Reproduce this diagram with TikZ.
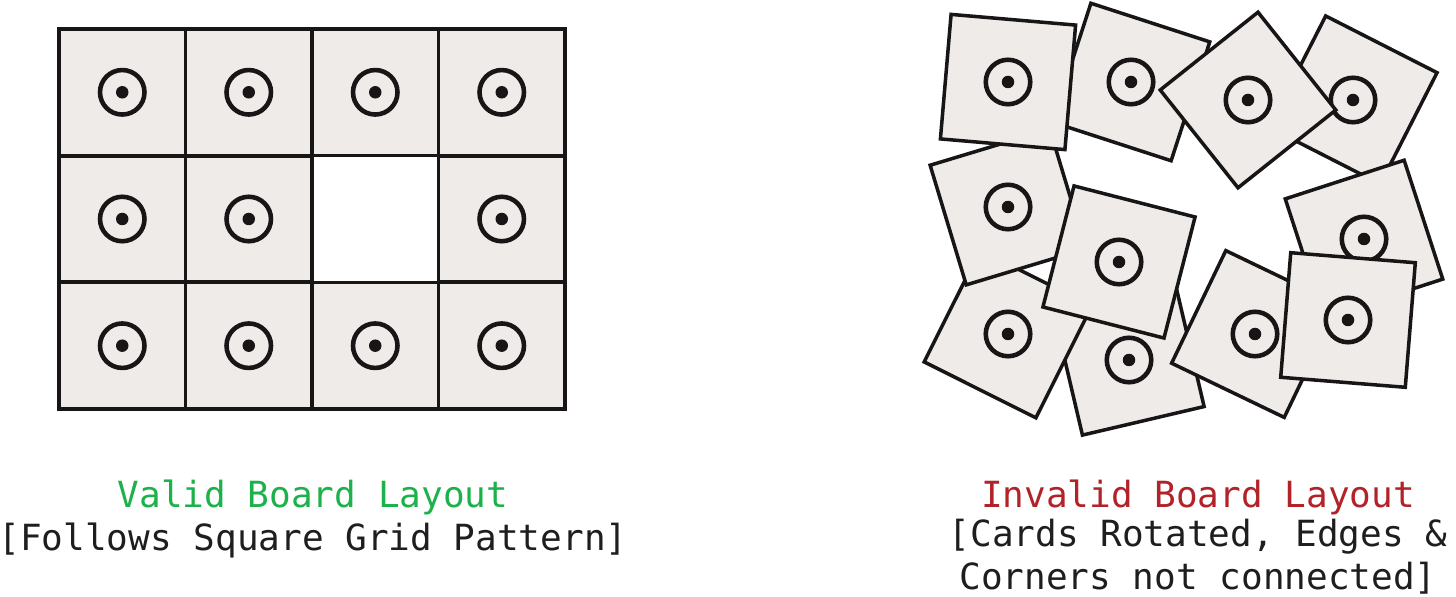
\documentclass[tikz,border=0pt]{standalone}
\usepackage{fontspec}
\setmonofont{DejaVu Sans Mono}
\usepackage{xcolor}
\usepackage{tikz}

\definecolor{cardfill}{RGB}{239,235,233}
\definecolor{inkdark}{RGB}{24,21,22}
\definecolor{validgreen}{RGB}{29,177,75}
\definecolor{invalidred}{RGB}{178,34,41}
\definecolor{captiontext}{RGB}{30,30,30}

\begin{document}
\begin{tikzpicture}[x=0.02cm, y=-0.02cm,
    card/.style={draw=inkdark, fill=cardfill, line width=2pt, minimum size=2.5cm, inner sep=0pt},
    gridcard/.style={card, minimum size=2.53cm},
    ring/.style={draw=inkdark, line width=2.6pt},
    dot/.style={fill=inkdark},
    caption/.style={font=\ttfamily\fontsize{20.5}{24}\selectfont, text=captiontext, anchor=base, inner sep=0pt, align=center}]
    \useasboundingbox (0,0) rectangle (1456,597);

    % valid board: square grid, one gap
    \foreach \c/\r in {0/0,1/0,2/0,3/0,0/1,1/1,3/1,0/2,1/2,2/2,3/2} {
        \node (g\c\r) [gridcard] at ({122.25+126.5*\c},{92.3+126.7*\r}) {};
        \draw[ring] (g\c\r.center) circle[radius=0.445cm];
        \fill[dot] (g\c\r.center) circle[radius=0.125cm];
    }

    % invalid board: rotated cards, back to front
    \foreach \n/\x/\y/\a in {cI/1129/360/13.2, cH/1008/334/-26.6, cE/1008/207/16.8,
        cG/1119/262/-14.4, cB/1131/82/-18, cA/1008/82/-4.9, cD/1353/100/-27,
        cC/1248/100/-51.5, cF/1364/239/18, cJ/1255/334/-25.7, cK/1348/320/-4.6} {
        \node (\n) [card, rotate=\a] at (\x,\y) {};
        \draw[ring] (\n.center) circle[radius=0.445cm];
        \fill[dot] (\n.center) circle[radius=0.125cm];
    }

    \node (validtitle) [caption, text=validgreen] at (313,507) {Valid Board Layout};
    \node (validnote) [caption] at (313,550) {[Follows Square Grid Pattern]};
    \node (invalidtitle) [caption, text=invalidred] at (1198,507) {Invalid Board Layout};
    \node (invalidnote) [caption] at (1198,589) {[Cards Rotated, Edges \&\\Corners not connected]};
\end{tikzpicture}
\end{document}
